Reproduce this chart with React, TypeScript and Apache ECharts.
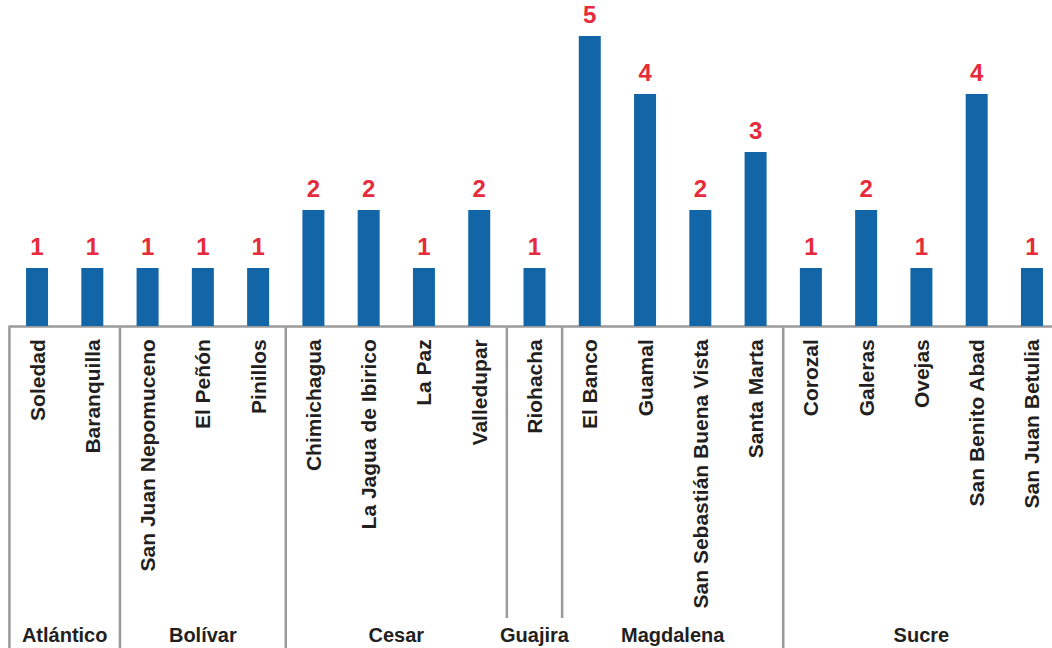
import React, { useEffect, useRef } from "react";
import * as echarts from "echarts";

const categories = [
  "Soledad", "Baranquilla",
  "San Juan Nepomuceno", "El Peñón", "Pinillos",
  "Chimichagua", "La Jagua de Ibirico", "La Paz", "Valledupar",
  "Riohacha",
  "El Banco", "Guamal", "San Sebastián Buena Vista", "Santa Marta",
  "Corozal", "Galeras", "Ovejas", "San Benito Abad", "San Juan Betulia",
];
const values = [1, 1, 1, 1, 1, 2, 2, 1, 2, 1, 5, 4, 2, 3, 1, 2, 1, 4, 1];
const groupNames = ["Atlántico", "Bolívar", "Cesar", "Guajira", "Magdalena", "Sucre"];
const groupSizes = [2, 3, 4, 1, 4, 5];

const FONT = '"Liberation Sans", Arial, Helvetica, sans-serif';
const LINE = "#9a9a9a";
const TEXT = "#231f20";

export default function App() {
  const ref = useRef<HTMLDivElement>(null);
  useEffect(() => {
    if (!ref.current) return;
    const chart = echarts.init(ref.current, undefined, { renderer: "svg" });
    chart.setOption({
      animation: false,
      grid: { left: 9.4, right: 2.4, top: 36, bottom: 322 },
      xAxis: {
        type: "category",
        data: categories,
        offset: 1.2,
        axisLine: { lineStyle: { color: LINE, width: 2.5 } },
        axisTick: { show: false },
        axisLabel: {
          rotate: 90,
          interval: 0,
          margin: 12,
          fontFamily: FONT,
          fontWeight: "bold",
          fontSize: 21,
          color: TEXT,
        },
      },
      yAxis: { type: "value", min: 0, max: 5, show: false, splitLine: { show: false } },
      series: [
        {
          type: "bar",
          data: values,
          barWidth: 22,
          itemStyle: { color: "#1265a7" },
          label: {
            show: true,
            position: "top",
            distance: 10,
            fontFamily: FONT,
            fontWeight: "bold",
            fontSize: 24,
            color: "#e62b3a",
          },
        },
      ],
    });

    const c0 = chart.convertToPixel({ xAxisIndex: 0 }, categories[0]) as number;
    const c1 = chart.convertToPixel({ xAxisIndex: 0 }, categories[1]) as number;
    const bw = c1 - c0;
    const axisY = (chart.convertToPixel({ yAxisIndex: 0 }, 0) as number) + 1.2;
    const H = 648;
    const elements: any[] = [];
    let idx = 0;
    groupSizes.forEach((size, g) => {
      const start = c0 + idx * bw - bw / 2;
      const end = c0 + (idx + size) * bw - bw / 2;
      const short = size === 1 || (g > 0 && groupSizes[g - 1] === 1);
      elements.push({
        type: "line",
        shape: { x1: start, y1: axisY, x2: start, y2: short ? 618 : H },
        style: { stroke: LINE, lineWidth: 2.5 },
        z: 10,
      });
      elements.push({
        type: "text",
        x: (start + end) / 2,
        y: 635,
        style: {
          text: groupNames[g],
          fill: TEXT,
          fontFamily: FONT,
          fontWeight: "bold",
          fontSize: 20,
          align: "center",
          verticalAlign: "middle",
        },
        z: 10,
      });
      idx += size;
    });
    chart.setOption({ graphic: { elements } });
    return () => chart.dispose();
  }, []);
  return (
    <div style={{ position: "fixed", left: 0, top: 0, width: 1052, height: 648, overflow: "hidden", background: "#fff" }}>
      <div ref={ref} style={{ width: 1062, height: 648 }} />
    </div>
  );
}
